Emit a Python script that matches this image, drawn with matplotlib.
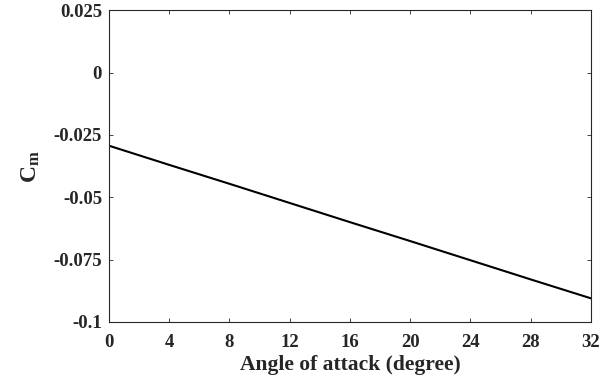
import matplotlib
matplotlib.use("Agg")
import matplotlib.pyplot as plt

plt.rcParams['font.family'] = ['Liberation Serif', 'DejaVu Serif']
plt.rcParams['font.weight'] = 'bold'
plt.rcParams['mathtext.fontset'] = 'custom'
plt.rcParams['mathtext.rm'] = 'Liberation Serif:bold'
plt.rcParams['mathtext.it'] = 'Liberation Serif:bold'
plt.rcParams['mathtext.bf'] = 'Liberation Serif:bold'

alpha = [0, 4, 8, 12, 16, 20, 24, 28, 32]
cm = [-0.0293, -0.0370, -0.0446, -0.0523, -0.0600, -0.0676, -0.0753, -0.0830, -0.0906]
xticks = [0, 4, 8, 12, 16, 20, 24, 28, 32]
yticks = [-0.1, -0.075, -0.05, -0.025, 0, 0.025]
yticklabels = ['-0.1', '-0.075', '-0.05', '-0.025', '0', '0.025']

fig = plt.figure(figsize=(6.14, 3.83), dpi=100)
ax = fig.add_axes([0.1775, 0.1599, 0.785, 0.8127])
ax.plot(alpha, cm, color='black', linewidth=1.5)
ax.set_xlim(0, 32)
ax.set_ylim(-0.1, 0.025)
ax.set_xticks(xticks)
ax.set_xticklabels([str(t) for t in xticks])
ax.set_yticks(yticks)
ax.set_yticklabels(yticklabels)
ax.tick_params(direction='in', top=True, right=True, length=3, width=0.6,
               labelsize=13.5, colors='#262626', labelcolor='#262626')
ax.tick_params(axis='x', pad=9)
ax.tick_params(axis='y', pad=5)
for lab in ax.get_xticklabels() + ax.get_yticklabels():
    lab.set_fontweight('bold')
for s in ax.spines.values():
    s.set_linewidth(0.8)
    s.set_color('#262626')
ax.set_xlabel('Angle of attack (degree)', fontsize=15.5, fontweight='bold', labelpad=3, color='#262626')
ax.set_ylabel(r'$\mathregular{C_m}$', fontsize=17, fontweight='bold', labelpad=8, color='#262626')
fig.savefig('out.png', dpi=100)
